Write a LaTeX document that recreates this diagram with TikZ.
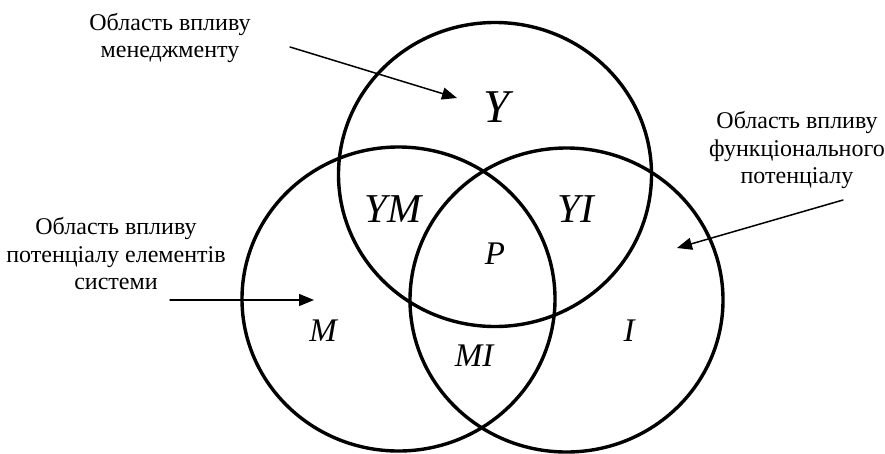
\documentclass[tikz,border=0pt]{standalone}
\usepackage{fontspec}
\setmainfont{Liberation Serif}
\usetikzlibrary{arrows.meta}

\begin{document}
\begin{tikzpicture}[x=1pt, y=-1pt, >={Triangle[length=15pt, width=12pt]}, line join=round, line cap=round]
    \useasboundingbox (0,0) rectangle (885,453);
    \tikzset{
        kolo/.style={line width=3.4pt},
        strilka/.style={->, line width=1.5pt},
        pidpys/.style={align=center, inner sep=0pt, font=\fontsize{24}{27.5}\selectfont},
        velyka/.style={inner sep=0pt, font=\fontsize{47}{47}\selectfont\itshape},
        serednia/.style={inner sep=0pt, font=\fontsize{41}{41}\selectfont\itshape},
        mala/.style={inner sep=0pt, font=\fontsize{33}{33}\selectfont\itshape}
    }
    % центри кіл
    \coordinate (OY) at (495,174.5);
    \coordinate (OM) at (398.5,299);
    \coordinate (OI) at (566.5,300);

    % три кола
    \draw[kolo] (OY) ellipse [x radius=156.5pt, y radius=152pt];
    \draw[kolo] (OM) ellipse [x radius=156.5pt, y radius=152pt];
    \draw[kolo] (OI) ellipse [x radius=156.5pt, y radius=152pt];

    % позначення областей
    \node[velyka] (y) at (497,107) {Y};
    \node[serednia] (ym) at (393,209) {YM};
    \node[serednia] (yi) at (576,209) {YI};
    \node[mala] (p) at (495,254) {P};
    \node[mala] (m) at (323,331) {M};
    \node[mala] (mi) at (474,356) {MI};
    \node[mala] (i) at (629,331) {I};

    % підписи
    \node[pidpys] (upr) at (170,38) {Область впливу\\менеджменту};
    \node[pidpys] (elem) at (116,254) {Область впливу\\потенціалу елементів\\системи};
    \node[pidpys] (func) at (797,150) {Область впливу\\функціонального\\потенціалу};

    % кінці стрілок
    \coordinate (s1) at (290,47);
    \coordinate (e1) at (457,98);
    \coordinate (s2) at (170,300);
    \coordinate (e2) at (314,300);
    \coordinate (s3) at (843,200);
    \coordinate (e3) at (677,248);

    % стрілки
    \draw[strilka] (s1) -- (e1);
    \draw[strilka] (s2) -- (e2);
    \draw[strilka] (s3) -- (e3);
\end{tikzpicture}
\end{document}
